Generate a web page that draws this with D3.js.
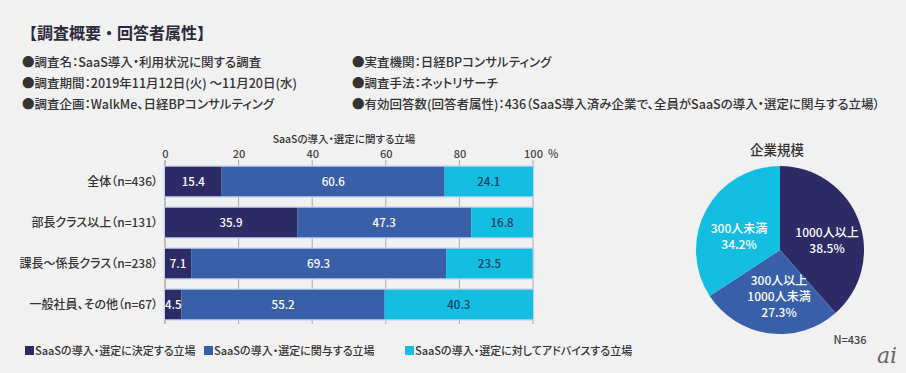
<!DOCTYPE html>
<html><head><meta charset="utf-8">
<script src="https://cdn.jsdelivr.net/npm/d3@7"></script>
<style>
html,body{margin:0;padding:0;background:#f1f1f1;}
svg{display:block;font-family:"Noto Sans CJK JP","Noto Sans",sans-serif;font-feature-settings:"palt";}
.t{font-feature-settings:normal;}
</style></head>
<body>
<svg id="c" width="906" height="373"></svg>
<script>
const headerTitle = "【調査概要・回答者属性】";
const infoLeft = ["●調査名：SaaS導入・利用状況に関する調査","●調査期間：2019年11月12日(火) ～11月20日(水)","●調査企画：WalkMe、日経BPコンサルティング"];
const infoRight = ["●実査機関：日経BPコンサルティング","●調査手法：ネットリサーチ","●有効回答数(回答者属性)：436（SaaS導入済み企業で、全員がSaaSの導入・選定に関与する立場）"];

const categories = ["全体（n=436）","部長クラス以上（n=131）","課長～係長クラス（n=238）","一般社員、その他（n=67）"];
const seriesNames = ["SaaSの導入・選定に決定する立場","SaaSの導入・選定に関与する立場","SaaSの導入・選定に対してアドバイスする立場"];
const decide = [15.4, 35.9, 7.1, 4.5];
const involve = [60.6, 47.3, 69.3, 55.2];
const advise = [24.1, 16.8, 23.5, 40.3];
const xTicks = [0,20,40,60,80,100];
const axisTitle = "SaaSの導入・選定に関する立場";

const pieTitle = "企業規模";
const pieLabels = [["1000人以上"],["300人以上","1000人未満"],["300人未満"]];
const pieValues = [38.5, 27.3, 34.2];
const pieNote = "N=436";

const colors = ["#2c2b66","#3a5fa9","#14bee1"];
const W = 500;

const svg = d3.select("#c");

// header
svg.append("text").attr("class","t").attr("x",21).attr("y",39).attr("font-size",16).attr("font-weight","bold")
  .attr("fill","#2a2a3a").text(headerTitle);
const lineY = [67,88,109];
infoLeft.forEach((t,i)=>svg.append("text").attr("x",22).attr("y",lineY[i]).attr("font-size",12.5).attr("font-weight",W).attr("fill","#333").text(t));
infoRight.forEach((t,i)=>svg.append("text").attr("x",352).attr("y",lineY[i]).attr("font-size",12.5).attr("font-weight",W).attr("fill","#333").text(t));

// bar chart
const x = d3.scaleLinear().domain([0,100]).range([165,533]);
const y = d3.scaleBand().domain(categories).range([161,325]).paddingInner(0.28).paddingOuter(0.14);
const gridTop = 160, gridBottom = 324;

const g = svg.append("g");
g.selectAll("line.grid").data(xTicks).join("line")
  .attr("x1",d=>x(d)).attr("x2",d=>x(d)).attr("y1",gridTop).attr("y2",gridBottom)
  .attr("stroke",d=>d===0?"#888":"#aaa").attr("stroke-width",1);

const axis = d3.axisTop(x).tickValues(xTicks).tickSize(0).tickPadding(0);
const ag = g.append("g").attr("transform",`translate(0,${158})`).call(axis);
ag.select(".domain").remove();
ag.selectAll("text").attr("font-size",11).attr("fill","#444").attr("font-weight",W).attr("font-family","'Noto Sans CJK JP',sans-serif");
g.append("text").attr("x",x(100)+15).attr("y",158).attr("font-size",11).attr("font-weight",W).attr("fill","#444").text("%");
g.append("text").attr("x",344).attr("y",143).attr("text-anchor","middle").attr("font-size",10.5).attr("font-weight",W).attr("fill","#333").text(axisTitle);

const stacked = categories.map((c,i)=>{
  const vals=[decide[i],involve[i],advise[i]];
  let acc=0;
  return vals.map((v,k)=>{const s={cat:c,k,v,x0:acc,x1:acc+v};acc+=v;return s;});
}).flat();

g.selectAll("rect.outline").data(categories).join("rect")
  .attr("x",x(0)-0.5).attr("y",d=>y(d)-0.5).attr("width",x(100)-x(0)+1).attr("height",y.bandwidth()+1)
  .attr("fill","none").attr("stroke","#c3d2ef").attr("stroke-width",1.5);
g.selectAll("rect.seg").data(stacked).join("rect")
  .attr("x",d=>x(d.x0)).attr("y",d=>y(d.cat)).attr("width",d=>x(Math.min(d.x1,100))-x(d.x0))
  .attr("height",y.bandwidth()).attr("fill",d=>colors[d.k]);
g.selectAll("text.val").data(stacked).join("text")
  .attr("x",d=>x((d.x0+Math.min(d.x1,100))/2)).attr("y",d=>y(d.cat)+y.bandwidth()/2+4)
  .attr("text-anchor","middle").attr("font-size",11.5).attr("font-weight",W)
  .attr("fill",d=>d.k===2?"#1d3b5e":"#fff").text(d=>d.v.toFixed(1));

g.selectAll("text.cat").data(categories).join("text")
  .attr("x",158).attr("y",d=>y(d)+y.bandwidth()/2+4).attr("text-anchor","end")
  .attr("font-size",12).attr("font-weight",W).attr("fill","#333").text(d=>d);

// legend
const legX = [25,204,405];
seriesNames.forEach((n,i)=>{
  svg.append("rect").attr("x",legX[i]).attr("y",346).attr("width",9).attr("height",9).attr("fill",colors[i]);
  svg.append("text").attr("x",legX[i]+10).attr("y",355).attr("font-size",11).attr("font-weight",W).attr("fill","#333").text(n);
});

// pie
const cx=780, cy=250, r=84;
const pie = d3.pie().sort(null).value(d=>d)(pieValues);
const arc = d3.arc().innerRadius(0).outerRadius(r);
const pg = svg.append("g").attr("transform",`translate(${cx},${cy})`);
pg.selectAll("path").data(pie).join("path").attr("d",arc).attr("fill",(d,i)=>colors[i]);
const labelPos = [[47,-13],[-1,35],[-41,-17]];
pie.forEach((d,i)=>{
  const lines = pieLabels[i].concat([pieValues[i].toFixed(1)+"%"]);
  const t = pg.append("text").attr("text-anchor","middle").attr("font-size",12).attr("font-weight",W).attr("fill","#fff");
  lines.forEach((l,j)=>t.append("tspan").attr("x",labelPos[i][0]).attr("y",labelPos[i][1]+j*16).text(l));
});
svg.append("text").attr("x",cx-3).attr("y",155).attr("text-anchor","middle").attr("font-size",13.5).attr("font-weight",W).attr("fill","#333").text(pieTitle);
svg.append("text").attr("x",850).attr("y",344).attr("text-anchor","middle").attr("font-size",11).attr("font-weight",W).attr("fill","#444").text(pieNote);
svg.append("text").attr("x",887).attr("y",363).attr("text-anchor","middle").attr("font-size",22)
  .attr("font-style","italic").attr("font-family","'DejaVu Serif',serif").attr("fill","#666").text("ai");
</script>
</body></html>
